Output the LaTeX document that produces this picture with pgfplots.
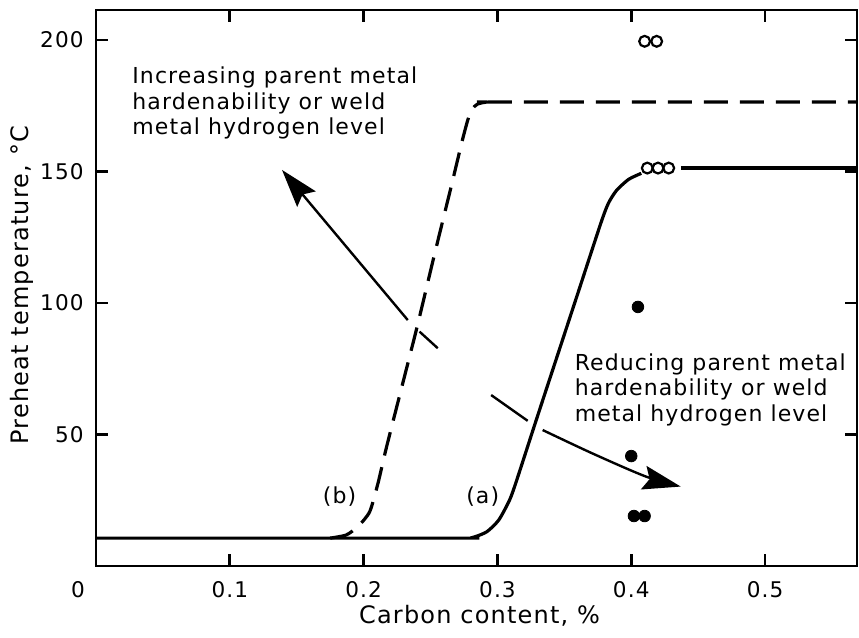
\documentclass[border=0pt]{standalone}
\usepackage{fontspec}
\setmainfont{DejaVu Sans}[LetterSpace=5]
\usepackage{pgfplots}
\pgfplotsset{compat=1.18}
\usetikzlibrary{arrows.meta}
\begin{document}
\begin{tikzpicture}
\useasboundingbox (-48pt,-36pt) rectangle (381.5pt,283pt);
\begin{axis}[
  scale only axis, width=380.5pt, height=278pt,
  xmin=0, xmax=0.5687, ymin=0, ymax=211.4,
  clip mode=individual,
  axis line style={line width=1.4pt},
  tick align=inside, major tick length=6pt,
  tick style={line width=1.4pt, black},
  xtick={0.1,0.2,0.3,0.4,0.5},
  xticklabels={0.1,0.2,0.3,0.4,0.5},
  ytick={50,100,150,200},
  /pgf/number format/assume math mode=true,
  ticklabel style={font=\fontsize{10.8}{12}\selectfont},
  xticklabel style={anchor=base, yshift=-16pt},
  yticklabel style={anchor=east, inner sep=0pt, xshift=-6pt},
  xlabel={Carbon content, \%},
  ylabel={Preheat temperature, °C},
  label style={font=\fontsize{12}{14}\selectfont},
  xlabel style={at={(axis description cs:0.504,0)}, anchor=base, yshift=-29pt},
  ylabel style={at={(axis description cs:-0.0892,0.505)}, anchor=base},
]
% curve (a)
\addplot[line width=1.6pt, smooth, tension=0.4] coordinates {
 (0,10.6) (0.27,10.6) (0.281,10.8) (0.292,13) (0.301,17.5) (0.309,25) (0.314,32)
 (0.329,55.5) (0.345,80.3) (0.361,105.1) (0.3775,130.7) (0.383,138) (0.389,142.8) (0.398,147) (0.4075,149.3)};
\addplot[line width=1.6pt] coordinates {(0.437,151.3) (0.57,151.3)};
% curve (b)
\addplot[line width=1.6pt, dash pattern=on 12pt off 6pt, smooth, tension=0.4] coordinates {
 (0.175,10.6) (0.187,11.8) (0.1957,15) (0.2045,20.6) (0.2107,31.4) (0.217,45)
 (0.2285,68) (0.240,91) (0.2525,117.5) (0.2654,144.2) (0.2705,155) (0.2741,162.5) (0.2778,169.5)
 (0.281,173.6) (0.285,175.6) (0.292,176.4) (0.30,176.4) (0.57,176.4)};
% open circles
\addplot[only marks, mark=o, mark size=2.7pt, mark options={line width=1.1pt}] coordinates {
 (0.410,199.5) (0.419,199.5) (0.412,151.3) (0.420,151.3) (0.428,151.3)};
% filled dots
\addplot[only marks, mark=*, mark size=2.9pt] coordinates {
 (0.405,98.5) (0.400,41.8) (0.402,19) (0.410,19)};
% arrows
\draw[line width=1.2pt, -{Stealth[length=19pt, width=12pt, inset=3pt]}] (0.233,93.5) -- (0.139,150.6);
\draw[line width=1.2pt] (0.2418,89.1) -- (0.2554,82.8);
\draw[line width=1.2pt] (0.2953,65.0) -- (0.3226,55.2);
\draw[line width=1.2pt, -{Stealth[length=19pt, width=12pt, inset=3pt]}] plot[smooth, tension=0.5] coordinates {(0.3338,51.7) (0.371,42.8) (0.411,34) (0.437,30.2)};
% labels
\node[font=\fontsize{11}{13}\selectfont] at (0.182,26.2) {(b)};
\node[font=\fontsize{11}{13}\selectfont] at (0.289,26.2) {(a)};
\node[anchor=base west, align=left, inner sep=0pt, font=\fontsize{11}{12.9}\selectfont] at (0.0269,163.9)
 {Increasing parent metal\\hardenability or weld\\metal hydrogen level};
\node[anchor=base west, align=left, inner sep=0pt, font=\fontsize{11}{12.9}\selectfont] at (0.3575,54.9)
 {Reducing parent metal\\hardenability or weld\\metal hydrogen level};
\node[anchor=base, font=\fontsize{10.8}{12}\selectfont, xshift=-9pt, yshift=-16pt] at (0,0) {0};
\end{axis}
\end{tikzpicture}
\end{document}
